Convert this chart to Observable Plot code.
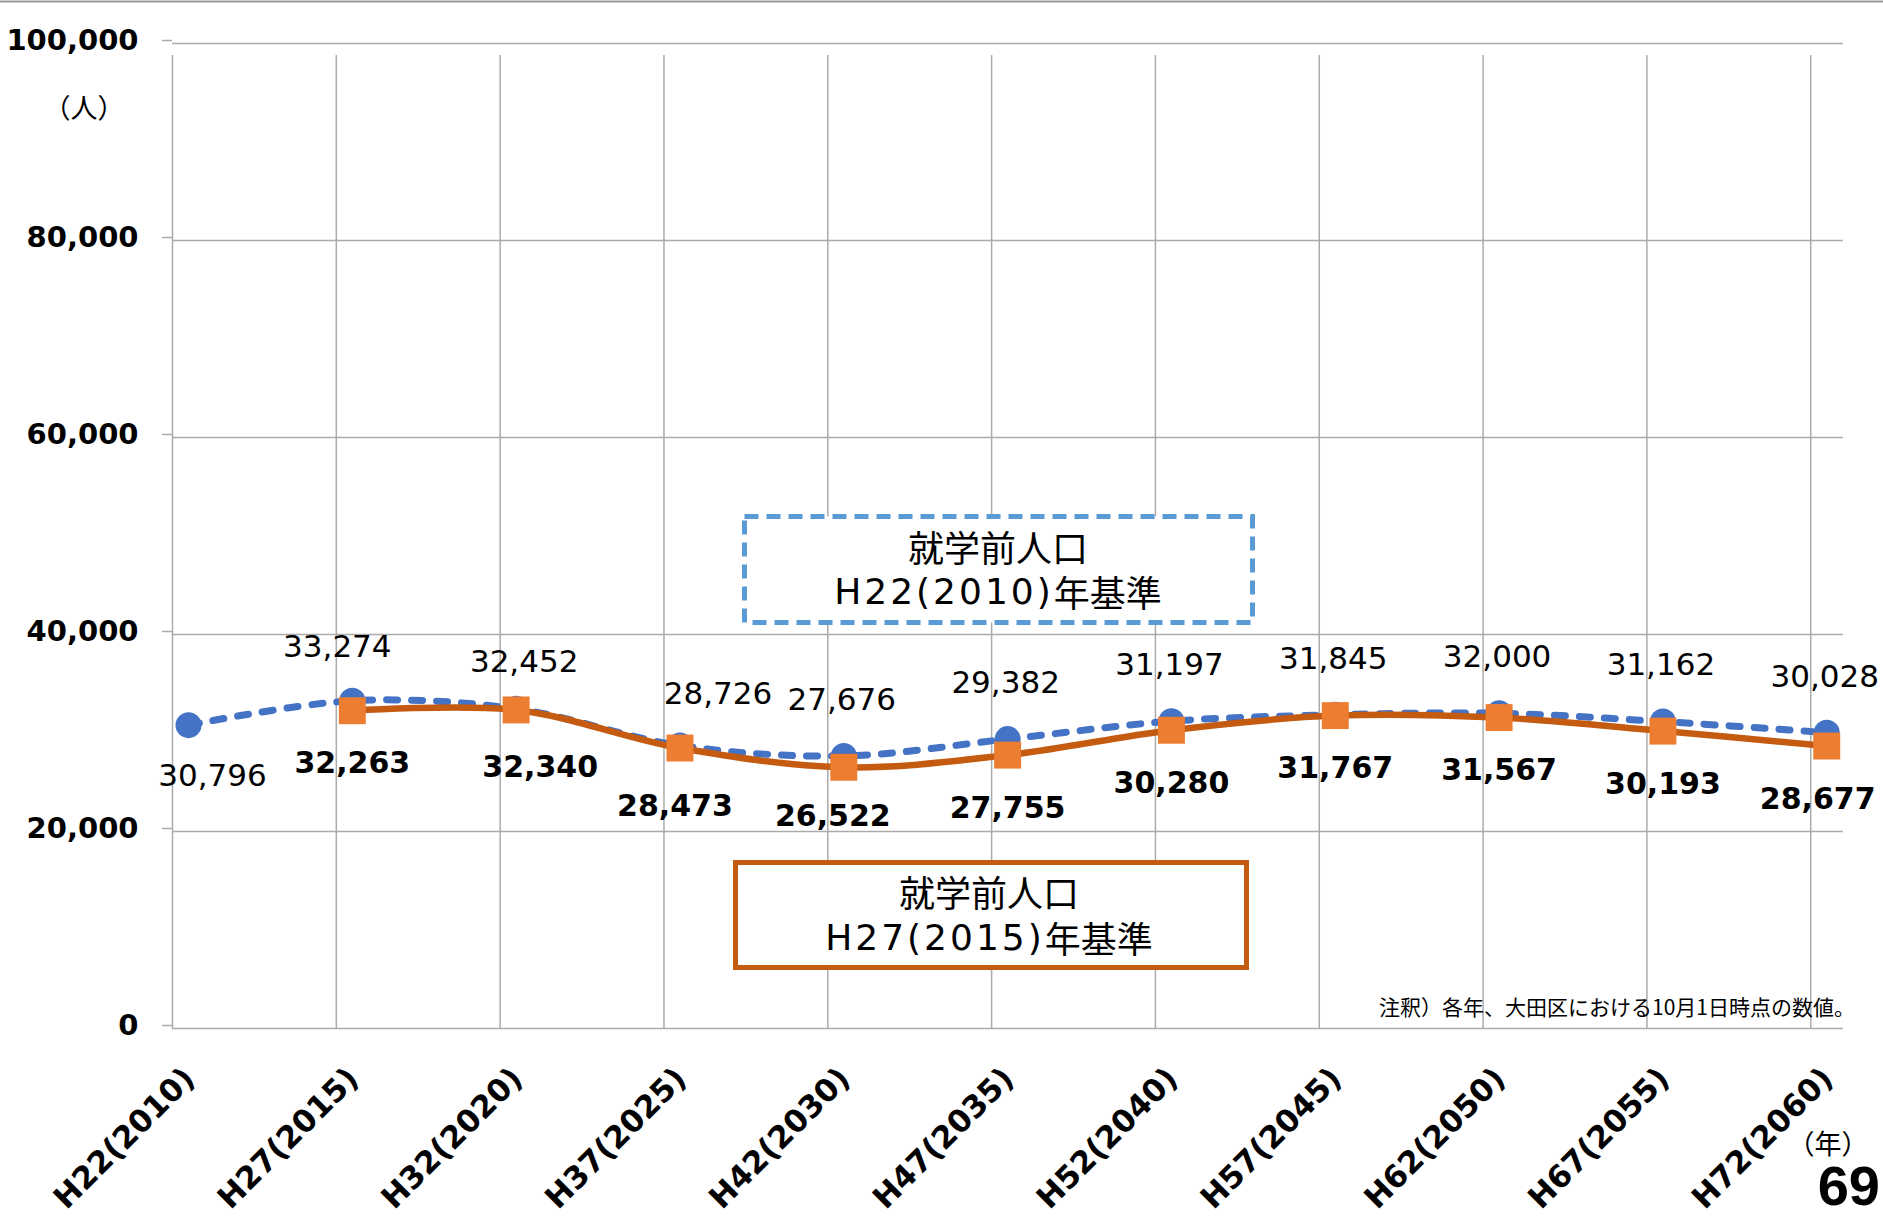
<!DOCTYPE html>
<html>
<head>
<meta charset="utf-8">
<script src="https://cdn.jsdelivr.net/npm/d3@7"></script>
<script src="https://cdn.jsdelivr.net/npm/@observablehq/plot@0.6"></script>
<style>
html, body { margin: 0; padding: 0; background: #fff; }
#wrap { position: relative; width: 1883px; height: 1218px; overflow: hidden; }
#wrap > svg { position: absolute; left: 0; top: 0; }
</style>
</head>
<body>
<div id="wrap"></div>
<script>
// ---- data ----
const categories = ["H22(2010)", "H27(2015)", "H32(2020)", "H37(2025)", "H42(2030)", "H47(2035)",
                    "H52(2040)", "H57(2045)", "H62(2050)", "H67(2055)", "H72(2060)"];
// 就学前人口 H22(2010)年基準 (H22..H72)
const baseH22 = [30796, 33274, 32452, 28726, 27676, 29382, 31197, 31845, 32000, 31162, 30028];
// 就学前人口 H27(2015)年基準 (H27..H72)
const baseH27 = [32263, 32340, 28473, 26522, 27755, 30280, 31767, 31567, 30193, 28677];
const yTicks = [0, 20000, 40000, 60000, 80000, 100000];

const seriesH22 = baseH22.map((v, i) => ({i, v}));
const seriesH27 = baseH27.map((v, k) => ({i: k + 1, v}));
const catIdx = categories.map((c, i) => i);

const LAT = "'DejaVu Sans', 'Noto Sans CJK JP', sans-serif";
const GRID = "#ababab";
const BLUE = "#4472c4";
const ORANGE_LINE = "#c55a11";
const ORANGE_PT = "#ed7d31";
const PX = 16; // point offset from gridline
const fmt = d3.format(",");

function lbl(data, idxs, dx, dy, bold) {
  return Plot.text(data.filter(d => idxs.includes(d.i)), {
    x: "i", y: "v", text: d => fmt(d.v),
    dx: PX + dx, dy, lineAnchor: "middle", textAnchor: "middle",
    fontSize: bold ? 30 : 31, fontWeight: bold ? "bold" : "normal", fill: "#000"
  });
}

const blueRest = [4, 5, 6, 7, 8, 9, 10];
const orangeRest = [1, 5, 6, 7, 8, 9];

const chart = Plot.plot({
  width: 1883,
  height: 1218,
  marginLeft: 172,
  marginRight: 40,
  marginTop: 43,
  marginBottom: 190,
  style: {fontFamily: LAT, background: "transparent", overflow: "visible"},
  x: {type: "linear", domain: [0, 10.2], axis: null},
  y: {domain: [0, 100000], axis: null},
  marks: [
    Plot.ruleY(yTicks, {y: d => d, stroke: GRID, strokeWidth: 1.5}),
    Plot.ruleX(catIdx, {x: d => d, y1: 0, y2: 100000, insetBottom: -12, stroke: GRID, strokeWidth: 1.5}),
    Plot.axisY(yTicks, {
      tickSize: 10, tickPadding: 24, tickFormat: fmt, label: null, dy: -3,
      fontSize: 29, fontWeight: "bold", stroke: GRID, strokeWidth: 1.5, fill: "#000"
    }),
    Plot.text(catIdx, {
      x: d => d, y: () => 0, text: d => categories[d],
      rotate: -45, textAnchor: "end", lineAnchor: "middle",
      dx: 17, dy: 45, fontSize: 31, fontWeight: "bold", fill: "#000"
    }),
    // H22 base series
    Plot.line(seriesH22, {
      x: "i", y: "v", dx: PX, stroke: BLUE, strokeWidth: 7,
      strokeDasharray: "11 14", strokeLinecap: "round", curve: "catmull-rom"
    }),
    Plot.dot(seriesH22, {x: "i", y: "v", dx: PX, r: 13, fill: BLUE, stroke: "none"}),
    // H27 base series
    Plot.line(seriesH27, {
      x: "i", y: "v", dx: PX, stroke: ORANGE_LINE, strokeWidth: 6.5, curve: "catmull-rom"
    }),
    Plot.dot(seriesH27, {x: "i", y: "v", dx: PX, r: 15.2, symbol: "square", fill: ORANGE_PT, stroke: "none"}),
    // labels H22 base (regular, above)
    lbl(seriesH22, [0], 24, 51, false),
    lbl(seriesH22, [1], -15, -54, false),
    lbl(seriesH22, [2], 8, -47, false),
    lbl(seriesH22, [3], 38, -51, false),
    lbl(seriesH22, blueRest, -2, -56, false),
    // labels H27 base (bold, below)
    lbl(seriesH27, orangeRest, 0, 53, true),
    lbl(seriesH27, [2], 24, 57, true),
    lbl(seriesH27, [3], -5, 58, true),
    lbl(seriesH27, [4], -11, 49, true),
    lbl(seriesH27, [10], -9, 53, true)
  ]
});

const wrap = document.getElementById("wrap");
wrap.appendChild(chart);

// ---- annotations / legend boxes ----
const NS = "http://www.w3.org/2000/svg";
const ov = document.createElementNS(NS, "svg");
ov.setAttribute("width", 1883);
ov.setAttribute("height", 1218);
ov.innerHTML = `
  <rect x="0" y="0.5" width="1883" height="2" fill="#9c9c9c"/>
  <text x="84" y="106" text-anchor="middle" dominant-baseline="central"
        font-family="'Noto Sans CJK JP', sans-serif" font-size="27" fill="#000">（人）</text>
  <text x="1828" y="1142" text-anchor="middle" dominant-baseline="central"
        font-family="'Noto Sans CJK JP', sans-serif" font-size="27" fill="#000">（年）</text>
  <text x="1880" y="1205" text-anchor="end"
        font-family="'Liberation Sans', Arial, sans-serif" font-weight="bold" font-size="56" fill="#000">69</text>
  <text x="1855" y="1006" text-anchor="end" dominant-baseline="central"
        font-family="'Noto Sans CJK JP', sans-serif" font-size="21" fill="#000">注釈）各年、大田区における10月1日時点の数値。</text>

  <rect x="744.5" y="516.5" width="508" height="106" fill="#fff"
        stroke="#5b9bd5" stroke-width="5" stroke-dasharray="14 8"/>
  <text x="998" y="546" text-anchor="middle" dominant-baseline="central"
        font-family="'Noto Sans CJK JP', sans-serif" font-size="36" fill="#000">就学前人口</text>
  <text x="998" y="591" text-anchor="middle" dominant-baseline="central"
        font-family="'DejaVu Sans', 'Noto Sans CJK JP', sans-serif" font-size="36" fill="#000"><tspan letter-spacing="3">H22(2010)</tspan><tspan font-family="'Noto Sans CJK JP', sans-serif">年基準</tspan></text>

  <rect x="735.5" y="862.5" width="511" height="105" fill="#fff"
        stroke="#c55a11" stroke-width="5"/>
  <text x="989" y="891" text-anchor="middle" dominant-baseline="central"
        font-family="'Noto Sans CJK JP', sans-serif" font-size="36" fill="#000">就学前人口</text>
  <text x="989" y="937" text-anchor="middle" dominant-baseline="central"
        font-family="'DejaVu Sans', 'Noto Sans CJK JP', sans-serif" font-size="36" fill="#000"><tspan letter-spacing="3">H27(2015)</tspan><tspan font-family="'Noto Sans CJK JP', sans-serif">年基準</tspan></text>
`;
wrap.appendChild(ov);
</script>
</body>
</html>
